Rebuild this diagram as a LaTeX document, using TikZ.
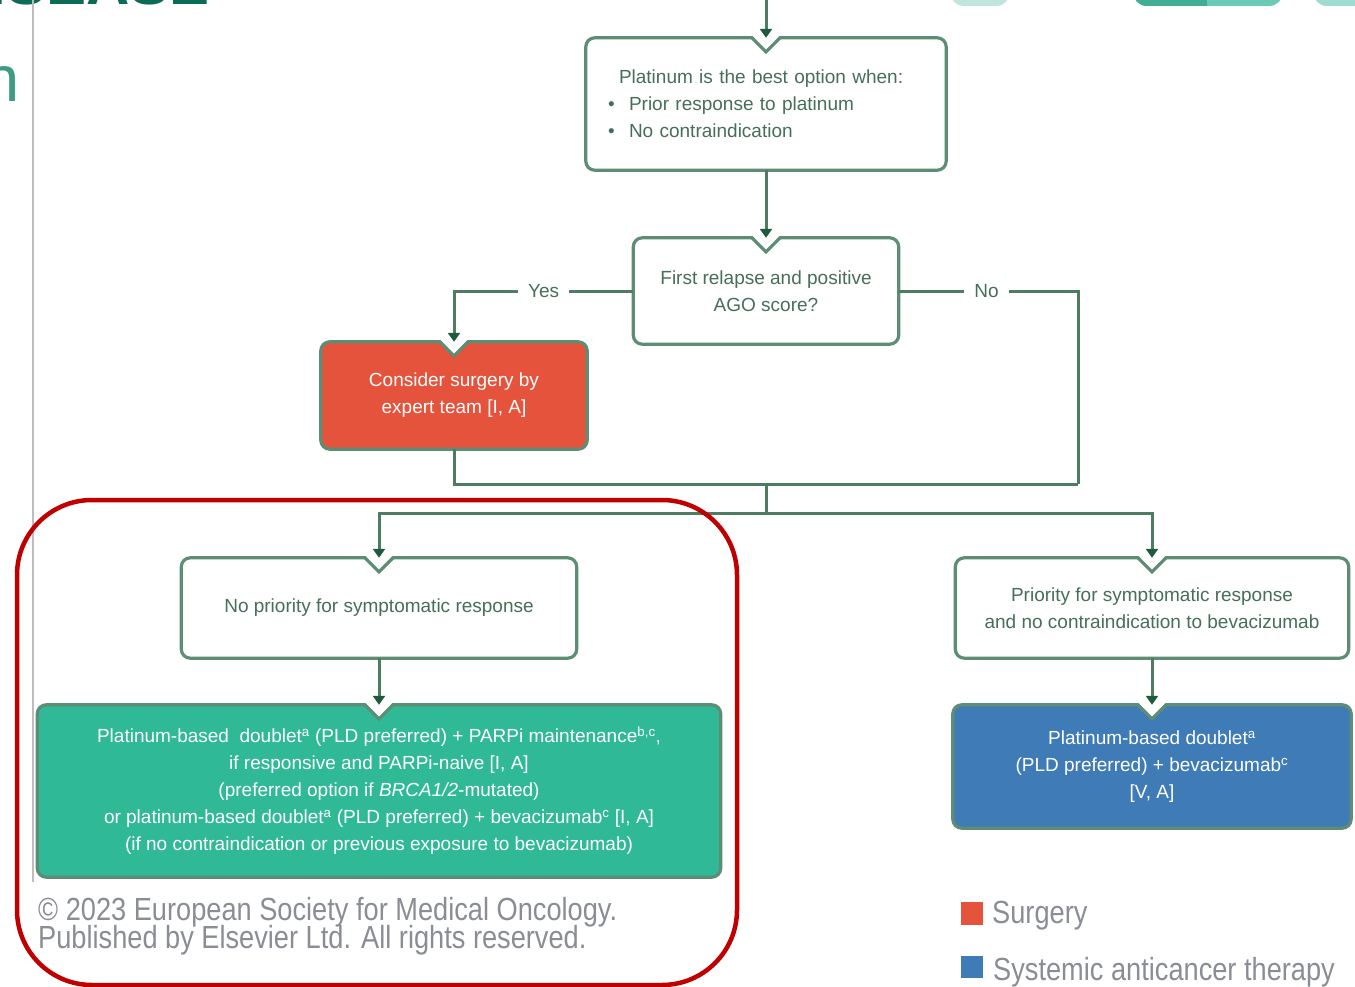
\documentclass[tikz,border=0pt]{standalone}
\usepackage{fontspec}
\setmainfont{Liberation Sans}
\newfontfamily\narrowfont[FakeStretch=0.85]{Liberation Sans}
\usetikzlibrary{arrows.meta,backgrounds}
\definecolor{bordc}{HTML}{5E8D75}
\definecolor{connc}{HTML}{4D7C63}
\definecolor{tipc}{HTML}{1E5A3E}
\definecolor{txtg}{HTML}{466F5A}
\definecolor{surgc}{HTML}{E5533D}
\definecolor{sactc}{HTML}{3F7BB6}
\definecolor{greenc}{HTML}{2FB996}
\definecolor{framec}{HTML}{C00000}
\definecolor{legtxt}{HTML}{8A8E94}
\definecolor{titlec}{HTML}{0B6B55}
\definecolor{subc}{HTML}{3E9C84}
\definecolor{vline}{HTML}{BDBDBD}
\definecolor{tabA}{HTML}{BFE5DD}
\definecolor{tabB}{HTML}{6CCBB6}
\definecolor{tabC}{HTML}{3FAE95}
\definecolor{tabD}{HTML}{9FDCD0}
\tikzset{
  boxnode/.style={rectangle, inner sep=0pt, align=center,
    font=\fontsize{19pt}{27pt}\selectfont, text=txtg},
  filledtext/.style={text=white},
  connector/.style={draw=connc, line width=3pt},
  arr/.style={-{Triangle[length=9pt,width=12pt,color=tipc]}},
  lbl/.style={fill=white, inner xsep=10pt, inner ysep=2pt,
    font=\fontsize{19pt}{23pt}\selectfont, text=txtg},
  legtext/.style={anchor=base west, inner sep=0pt, text=legtxt,
    font=\narrowfont\fontsize{32pt}{36pt}\selectfont},
}
\newcommand\notchbox[2]{%
  \draw[bordc, line width=3.2pt, fill=#2, rounded corners=9pt]
    (#1.south west) rectangle (#1.north east);
  \fill[white] ([xshift=-14pt,yshift=2.6pt]#1.north) -- ([xshift=14pt,yshift=2.6pt]#1.north)
    -- ([yshift=-14pt]#1.north) -- cycle;
  \draw[bordc, line width=3.2pt, line join=miter]
    ([xshift=-14pt]#1.north) -- ([yshift=-14pt]#1.north) -- ([xshift=14pt]#1.north);
}
\begin{document}
\begin{tikzpicture}[x=1pt,y=-1pt]
\useasboundingbox (0,0) rectangle (1355,987);
\begin{scope}
\clip (0,0) rectangle (1355,987);
% cut-off header pieces
\node[anchor=base east, inner sep=0pt, text=titlec,
  font=\fontsize{60pt}{60pt}\selectfont\bfseries] (title) at (210,5) {DISEASE};
\node[anchor=base east, inner sep=0pt, text=subc,
  font=\fontsize{65pt}{65pt}\selectfont] (subtitle) at (20,102) {n};
\fill[tabA, rounded corners=14pt] (950,-40) rectangle (1010,6);
\fill[tabB, rounded corners=14pt] (1133,-40) rectangle (1283,6);
\fill[tabC, rounded corners=14pt] (1133,-40) rectangle (1220,6);
\fill[tabB] (1207,-40) rectangle (1225,6);
\fill[tabD, rounded corners=14pt] (1313,-40) rectangle (1400,6);
\end{scope}
\draw[vline, line width=2.5pt] (33,0) -- (33,882);

% nodes
\node[boxnode, minimum width=360pt, minimum height=132pt, text width=316pt, align=left]
  (box1) at (766,104)
  {\hspace*{11pt}Platinum is the best option when:\\
   \makebox[21pt][l]{\textbullet}Prior response to platinum\\
   \makebox[21pt][l]{\textbullet}No contraindication};
\node[boxnode, minimum width=265pt, minimum height=106pt] (box2) at (766,291)
  {First relapse and positive\\AGO score?};
\node[boxnode, filledtext, minimum width=266pt, minimum height=107pt] (surg) at (454,395.5)
  {Consider surgery by\\expert team [I, A]};
\node[boxnode, minimum width=395pt, minimum height=100pt] (box3) at (379,608)
  {No priority for symptomatic response};
\node[boxnode, filledtext, minimum width=683pt, minimum height=172pt] (box4) at (379,791)
  {Platinum-based\ \ doublet\textsuperscript{a} (PLD preferred) + PARPi maintenance\textsuperscript{b,c},\\
   if responsive and PARPi-naive [I, A]\\
   (preferred option if \textit{BRCA1/2}-mutated)\\
   or platinum-based doublet\textsuperscript{a} (PLD preferred) + bevacizumab\textsuperscript{c} [I, A]\\
   (if no contraindication or previous exposure to bevacizumab)};
\node[boxnode, minimum width=393pt, minimum height=100pt] (box5) at (1152,608)
  {Priority for symptomatic response\\and no contraindication to bevacizumab};
\node[boxnode, filledtext, minimum width=398pt, minimum height=123pt] (box6) at (1152,766.5)
  {Platinum-based doublet\textsuperscript{a}\\(PLD preferred) + bevacizumab\textsuperscript{c}\\{}[V, A]};

\begin{scope}[on background layer]
\fill[white] (0,0) rectangle (1355,987);
\notchbox{box1}{white}
\notchbox{box2}{white}
\notchbox{surg}{surgc}
\notchbox{box3}{white}
\notchbox{box4}{greenc}
\notchbox{box5}{white}
\notchbox{box6}{sactc}
\end{scope}

% connectors
\coordinate (top) at (766,0);
\coordinate (jr) at (1078,484);
\coordinate (jm) at (766,484);
\coordinate (split) at (766,513);
\draw[connector, arr] (top) -- (box1.north);
\draw[connector, arr] (box1.south) -- (box2.north);
\draw[connector, arr] (box2.west) -| node[lbl, pos=0.25] (yes) {Yes} (surg.north);
\draw[connector] (box2.east) -| node[lbl, pos=0.245] (no) {No} (jr);
\draw[connector] (surg.south) |- (jr);
\draw[connector] (jm) -- (split);
\draw[connector, arr] (split) -| (box3.north);
\draw[connector, arr] (split) -| (box5.north);
\draw[connector, arr] (box3.south) -- (box4.north);
\draw[connector, arr] (box5.south) -- (box6.north);

% red frame
\draw[framec, line width=4.5pt, rounded corners=75pt] (17,500) rectangle (737,985);

% copyright
\node[legtext] (copy1) at (38,920) {\textcopyright\ 2023 European Society for Medical Oncology.};
\node[legtext] (copy2) at (38,948) {Published by Elsevier Ltd. All rights reserved.};

% legend
\fill[surgc] (961,902) rectangle (983,925);
\node[legtext] (legs) at (992,923) {Surgery};
\fill[sactc] (961,956) rectangle (983,978);
\node[legtext] (legt) at (993,980) {Systemic anticancer therapy};
\end{tikzpicture}
\end{document}
